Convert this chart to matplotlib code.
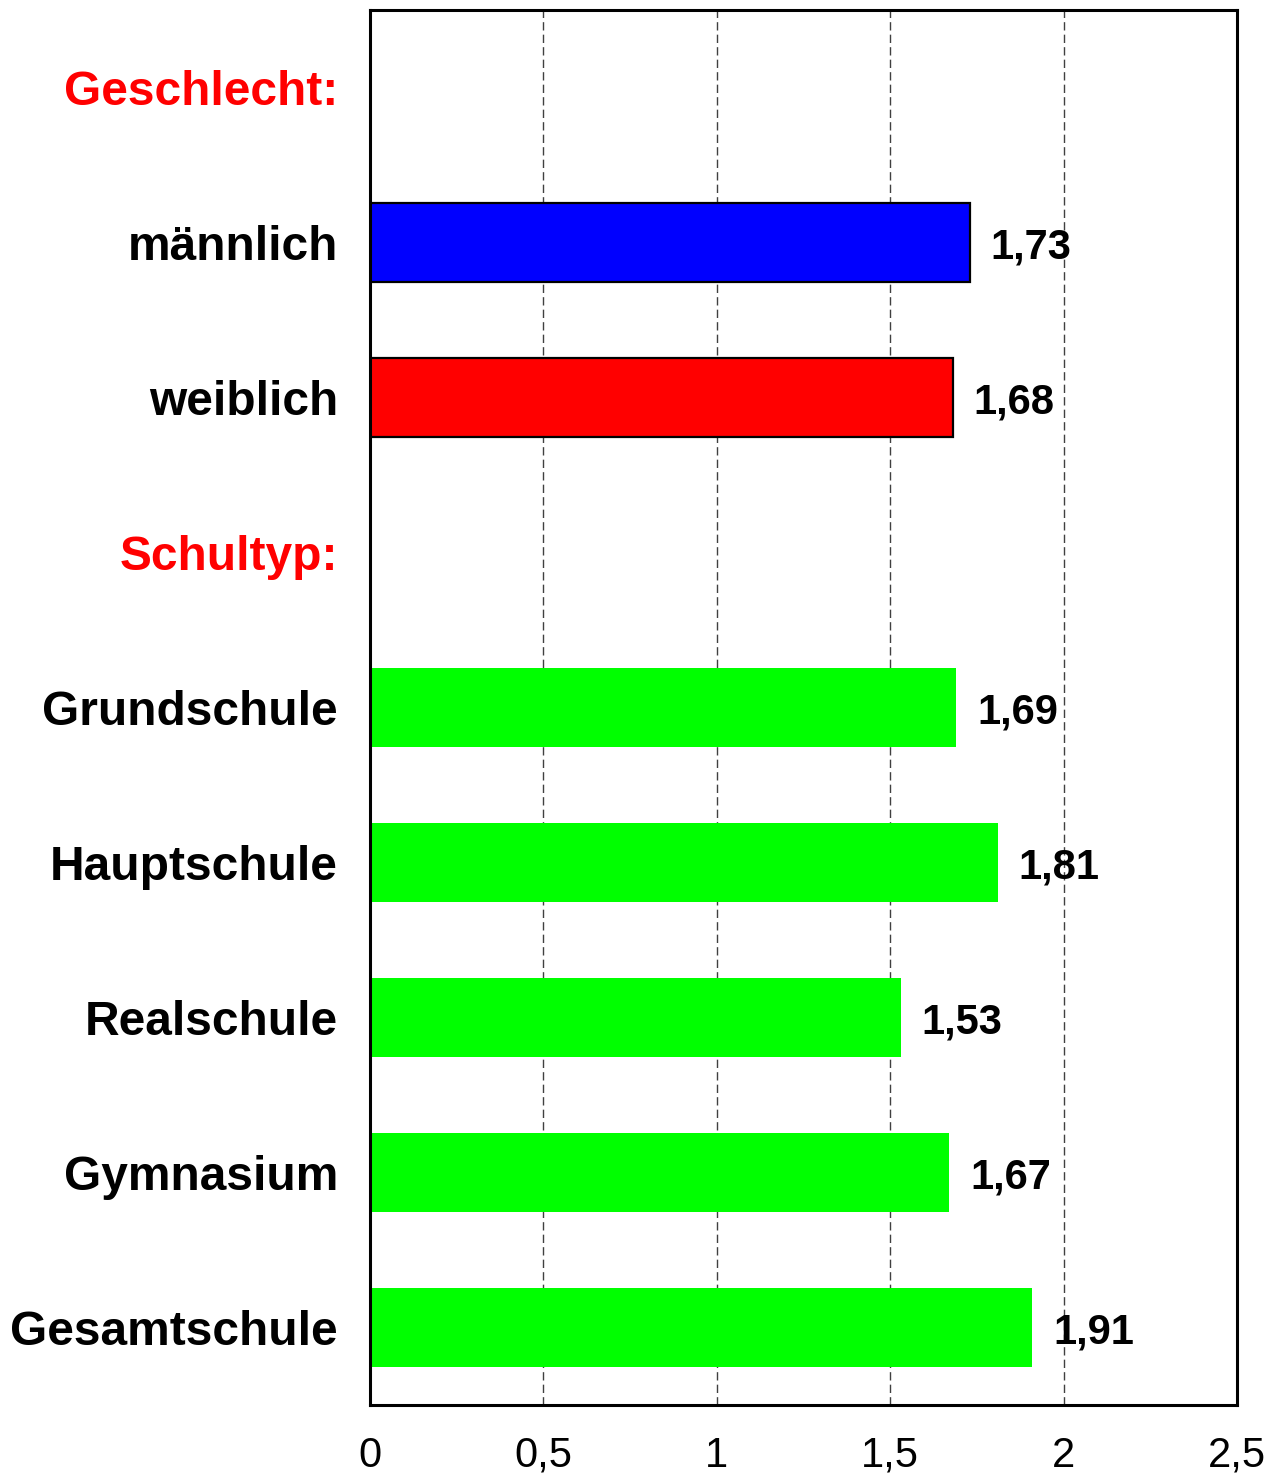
import matplotlib
matplotlib.use("Agg")
import matplotlib.pyplot as plt

categories = ["Geschlecht:", "männlich", "weiblich", "Schultyp:",
              "Grundschule", "Hauptschule", "Realschule", "Gymnasium", "Gesamtschule"]
values = [None, 1.73, 1.68, None, 1.69, 1.81, 1.53, 1.67, 1.91]
bar_colors = [None, "#0000ff", "#ff0000", None,
              "#00ff00", "#00ff00", "#00ff00", "#00ff00", "#00ff00"]
edge_colors = [None, "black", "black", None, "none", "none", "none", "none", "none"]
label_colors = ["#ff0000", "black", "black", "#ff0000",
                "black", "black", "black", "black", "black"]
xticks = [0, 0.5, 1, 1.5, 2, 2.5]
xtick_labels = ["0", "0,5", "1", "1,5", "2", "2,5"]

plt.rcParams['font.family'] = ['Liberation Sans', 'DejaVu Sans']

fig = plt.figure(figsize=(12.82, 14.74), dpi=100)
ax = fig.add_axes([370/1282, 1 - 1405/1474, 867/1282, 1395/1474])

for i, (v, c, ec) in enumerate(zip(values, bar_colors, edge_colors)):
    if v is None:
        continue
    ax.barh(i, v, height=0.51, color=c, edgecolor=ec,
            linewidth=1.6 if ec != "none" else 0, zorder=2)
    ax.text(v + 0.06, i + 0.03, f"{v:.2f}".replace(".", ","), va="center", ha="left",
            fontsize=30, fontweight="bold", color="black", zorder=4)

ax.set_xlim(0, 2.5)
ax.set_ylim(len(categories) - 0.5, -0.5)
ax.set_xticks(xticks)
ax.set_xticklabels(xtick_labels, fontsize=30)
ax.set_yticks(range(len(categories)))
ax.set_yticklabels(categories, fontsize=34.5, fontweight="bold")
for lbl, col in zip(ax.get_yticklabels(), label_colors):
    lbl.set_color(col)

ax.tick_params(axis="both", length=0)
ax.tick_params(axis="x", pad=22)
ax.tick_params(axis="y", pad=23)

ax.xaxis.grid(True, color="#404040", linewidth=1.0, linestyle=(0, (6, 3)), zorder=1)
ax.set_axisbelow(True)
for s in ax.spines.values():
    s.set_linewidth(2.2)
    s.set_color("black")
    s.set_zorder(5)

fig.savefig("out.png", dpi=100)
